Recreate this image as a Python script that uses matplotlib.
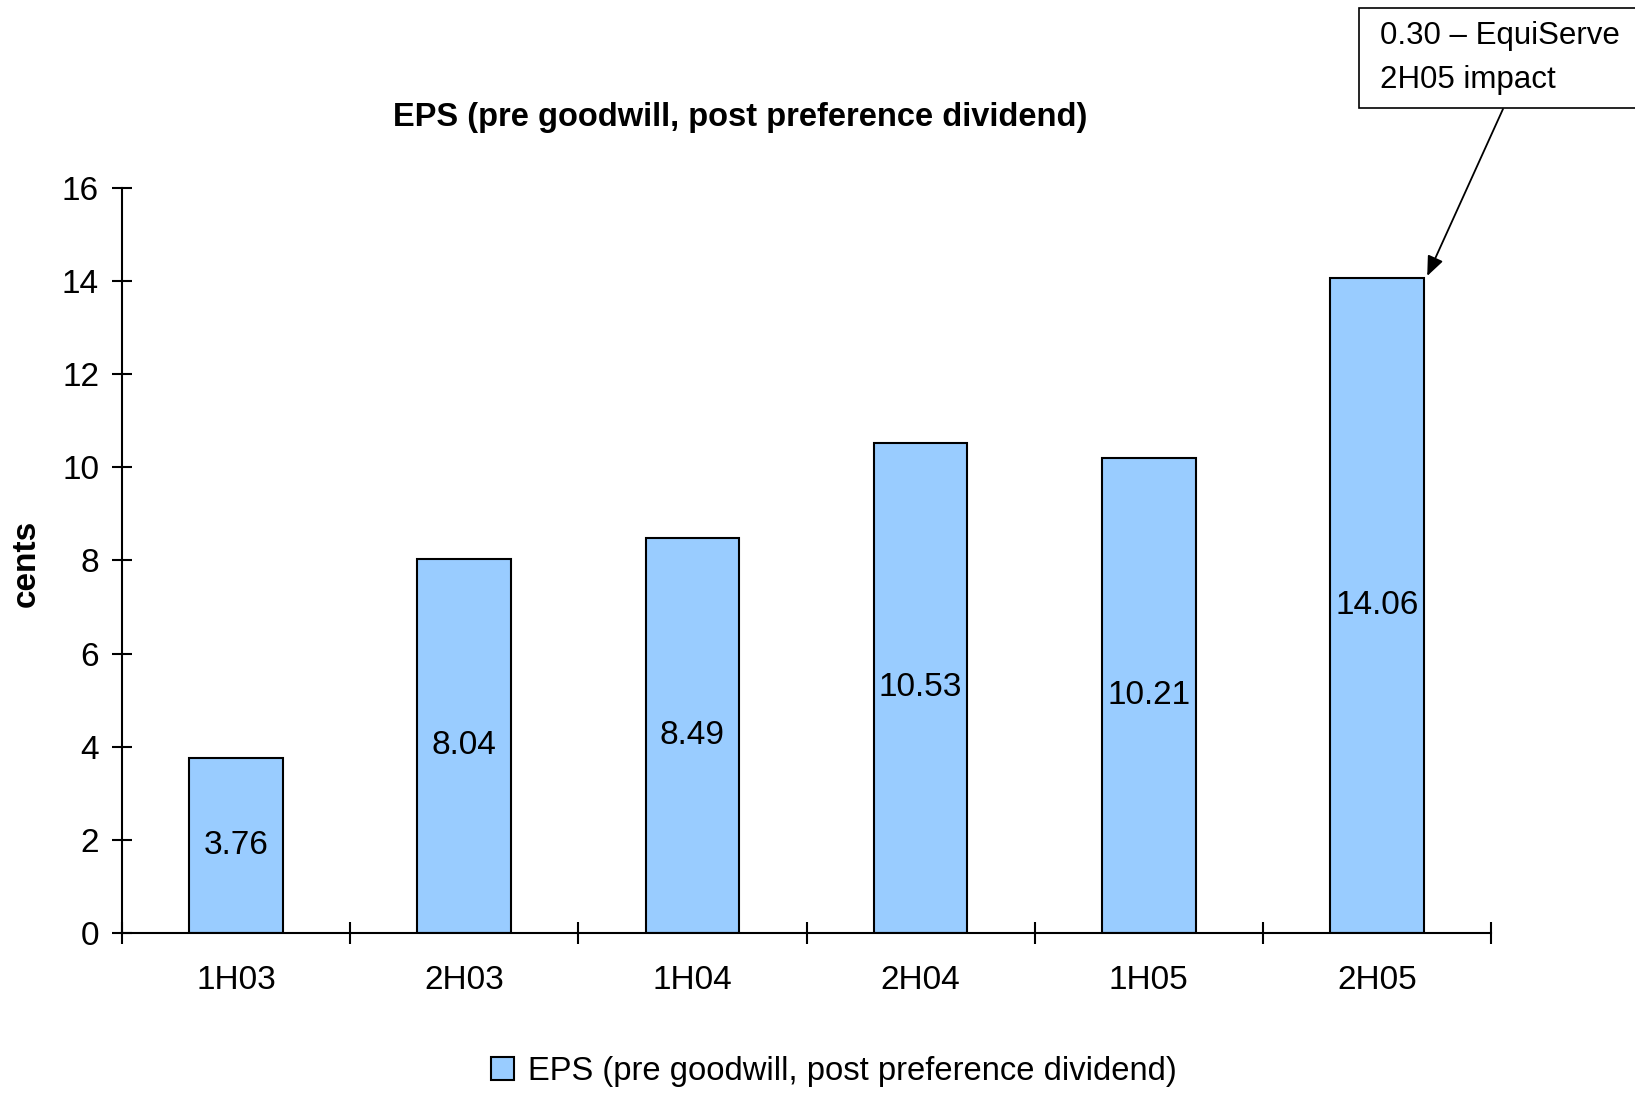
import matplotlib
matplotlib.use('Agg')
import matplotlib.pyplot as plt
from matplotlib.patches import Rectangle
import numpy as np

periods = ['1H03', '2H03', '1H04', '2H04', '1H05', '2H05']
eps = [3.76, 8.04, 8.49, 10.53, 10.21, 14.06]
series_name = 'EPS (pre goodwill, post preference dividend)'
note = '0.30 \u2013 EquiServe\n2H05 impact'

plt.rcParams['font.family'] = ['Liberation Sans', 'DejaVu Sans']

fig = plt.figure(figsize=(16.35, 10.93), dpi=100)
ax = fig.add_axes([0.0746, 0.1464, 0.8374, 0.6816])

x = np.arange(len(periods))
bars = ax.bar(x, eps, width=0.41, color='#99CCFF', edgecolor='black', linewidth=1.5,
              label=series_name, zorder=2)
for xi, v in zip(x, eps):
    ax.text(xi, v / 2, f'{v:.2f}', ha='center', va='center', fontsize=24)

ax.set_xlim(-0.5, len(periods) - 0.5)
ax.set_ylim(0, 16)
ax.set_yticks(range(0, 17, 2))
ax.tick_params(axis='y', direction='inout', length=15, width=1.5, labelsize=24, pad=9)

# ticks sit between the categories, labels in the middle
ax.set_xticks(np.arange(-0.5, len(periods), 1))
ax.set_xticklabels([])
ax.set_xticks(x, minor=True)
ax.set_xticklabels(periods, minor=True)
ax.tick_params(axis='x', which='major', direction='inout', length=16, width=1.5)
ax.tick_params(axis='x', which='minor', length=0, labelsize=24, pad=23)

for s in ['top', 'right']:
    ax.spines[s].set_visible(False)
for s in ['left', 'bottom']:
    ax.spines[s].set_linewidth(1.5)

fig.text(0.453, 0.8925, series_name, ha='center', va='center',
         fontsize=23.5, fontweight='bold')
fig.text(0.016, 0.485, 'cents', rotation=90, ha='center', va='center', fontsize=24,
         fontweight='bold')

# callout box with arrow to the 2H05 bar
H = 1093
fig.patches.append(Rectangle((1359, H - 108), 300, 100, transform=None,
                             facecolor='white', edgecolor='black', linewidth=1.2))
for i, line in enumerate(note.split('\n')):
    fig.text(1380, H - 36 - 44 * i, line, transform=None, ha='left', va='center',
             fontsize=22.5)
ax.annotate('', xy=(5 + 0.22, eps[5] + 0.05), xycoords='data',
            xytext=(1503, H - 109), textcoords='figure pixels',
            arrowprops=dict(arrowstyle='-|>,head_length=1.2,head_width=0.5',
                            color='black', linewidth=1.3, shrinkA=0, shrinkB=0))

fig.legend(handles=[bars], loc='center', bbox_to_anchor=(0.51, 0.02),
           frameon=False, fontsize=23.6, handlelength=0.7, handleheight=0.7,
           handletextpad=0.4)

fig.savefig('out.png', dpi=100)
